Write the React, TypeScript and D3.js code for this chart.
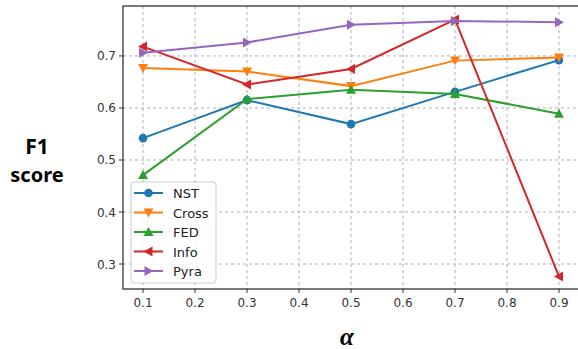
import React from "react";
import * as d3 from "d3";

const alphas = [0.1, 0.3, 0.5, 0.7, 0.9];
const nst = [0.542, 0.615, 0.569, 0.631, 0.692];
const cross = [0.677, 0.67, 0.642, 0.691, 0.697];
const fed = [0.471, 0.617, 0.635, 0.627, 0.589];
const info = [0.718, 0.645, 0.675, 0.77, 0.276];
const pyra = [0.706, 0.726, 0.76, 0.767, 0.765];
const seriesNames = ["NST", "Cross", "FED", "Info", "Pyra"];
const xTicks = [0.1, 0.2, 0.3, 0.4, 0.5, 0.6, 0.7, 0.8, 0.9];
const yTicks = [0.3, 0.4, 0.5, 0.6, 0.7];

const colors = ["#1f77b4", "#ff7f0e", "#2ca02c", "#d62728", "#9467bd"];
const markers = ["circle", "down", "up", "left", "right"];

const W = 578, H = 349;
const L = 123, R = 582, T = 6, B = 289;

function Marker({ type, x, y, color }: { type: string; x: number; y: number; color: string }) {
  const s = 5;
  if (type === "circle") return <circle cx={x} cy={y} r={4.3} fill={color} />;
  let pts: number[][] = [];
  if (type === "down") pts = [[x - s, y - s * 0.8], [x + s, y - s * 0.8], [x, y + s]];
  if (type === "up") pts = [[x - s, y + s * 0.8], [x + s, y + s * 0.8], [x, y - s]];
  if (type === "left") pts = [[x + s * 0.8, y - s], [x + s * 0.8, y + s], [x - s, y]];
  if (type === "right") pts = [[x - s * 0.8, y - s], [x - s * 0.8, y + s], [x + s, y]];
  return <polygon points={pts.map((p) => p.join(",")).join(" ")} fill={color} />;
}

export default function App() {
  const x = d3.scaleLinear().domain([0.0615, 0.1 + (R - 143) / 520]).range([L, R]);
  const y = d3.scaleLinear().domain([0.252, 0.796]).range([B, T]);
  const data = [nst, cross, fed, info, pyra];
  const line = d3
    .line<number>()
    .x((_, i) => x(alphas[i]))
    .y((d) => y(d));
  const font = "'DejaVu Sans', sans-serif";
  return (
    <svg width={W} height={H} style={{ position: "absolute", left: 0, top: 0 }}>
      <rect width={W} height={H} fill="#fff" />
      {xTicks.map((t) => (
        <line key={"gx" + t} x1={x(t)} x2={x(t)} y1={T} y2={B} stroke="#b0b0b0" strokeWidth={1} strokeDasharray="3,3" />
      ))}
      {yTicks.map((t) => (
        <line key={"gy" + t} x1={L} x2={R} y1={y(t)} y2={y(t)} stroke="#b0b0b0" strokeWidth={1} strokeDasharray="3,3" />
      ))}
      {data.map((d, k) => (
        <g key={k}>
          <path d={line(d) || ""} fill="none" stroke={colors[k]} strokeWidth={2} />
          {d.map((v, i) => (
            <Marker key={i} type={markers[k]} x={x(alphas[i])} y={y(v)} color={colors[k]} />
          ))}
        </g>
      ))}
      <rect x={L} y={T} width={R - L} height={B - T} fill="none" stroke="#333" strokeWidth={1.3} />
      {xTicks.map((t) => (
        <g key={"tx" + t}>
          <line x1={x(t)} x2={x(t)} y1={B} y2={B + 4} stroke="#333" />
          <text x={x(t)} y={B + 18} textAnchor="middle" fontSize={12} fontFamily={font} fill="#333">
            {t.toFixed(1)}
          </text>
        </g>
      ))}
      {yTicks.map((t) => (
        <g key={"ty" + t}>
          <line x1={L - 4} x2={L} y1={y(t)} y2={y(t)} stroke="#333" />
          <text x={L - 7} y={y(t) + 4.5} textAnchor="end" fontSize={12} fontFamily={font} fill="#333">
            {t.toFixed(1)}
          </text>
        </g>
      ))}
      <g>
        <rect x={131} y={182} width={85} height={101} rx={3} fill="#fff" fillOpacity={0.85} stroke="#ccc" />
        {seriesNames.map((n, k) => {
          const ly = 193 + k * 19.5;
          return (
            <g key={n}>
              <line x1={134} x2={163} y1={ly} y2={ly} stroke={colors[k]} strokeWidth={2} />
              <Marker type={markers[k]} x={148.5} y={ly} color={colors[k]} />
              <text x={173} y={ly + 5} fontSize={13} fontFamily={font} fill="#222">
                {n}
              </text>
            </g>
          );
        })}
      </g>
      <text x={37} y={154} textAnchor="middle" fontSize={21} fontWeight="bold" fontFamily="'Noto Sans', sans-serif" fill="#000">
        F1
      </text>
      <text x={37} y={182} textAnchor="middle" fontSize={20} fontWeight="bold" fontFamily="'Noto Sans', sans-serif" fill="#000">
        score
      </text>
      <text x={347} y={345} textAnchor="middle" fontSize={25} fontStyle="italic" fontWeight="bold" fontFamily="'Liberation Serif', serif" fill="#000">
        α
      </text>
    </svg>
  );
}
